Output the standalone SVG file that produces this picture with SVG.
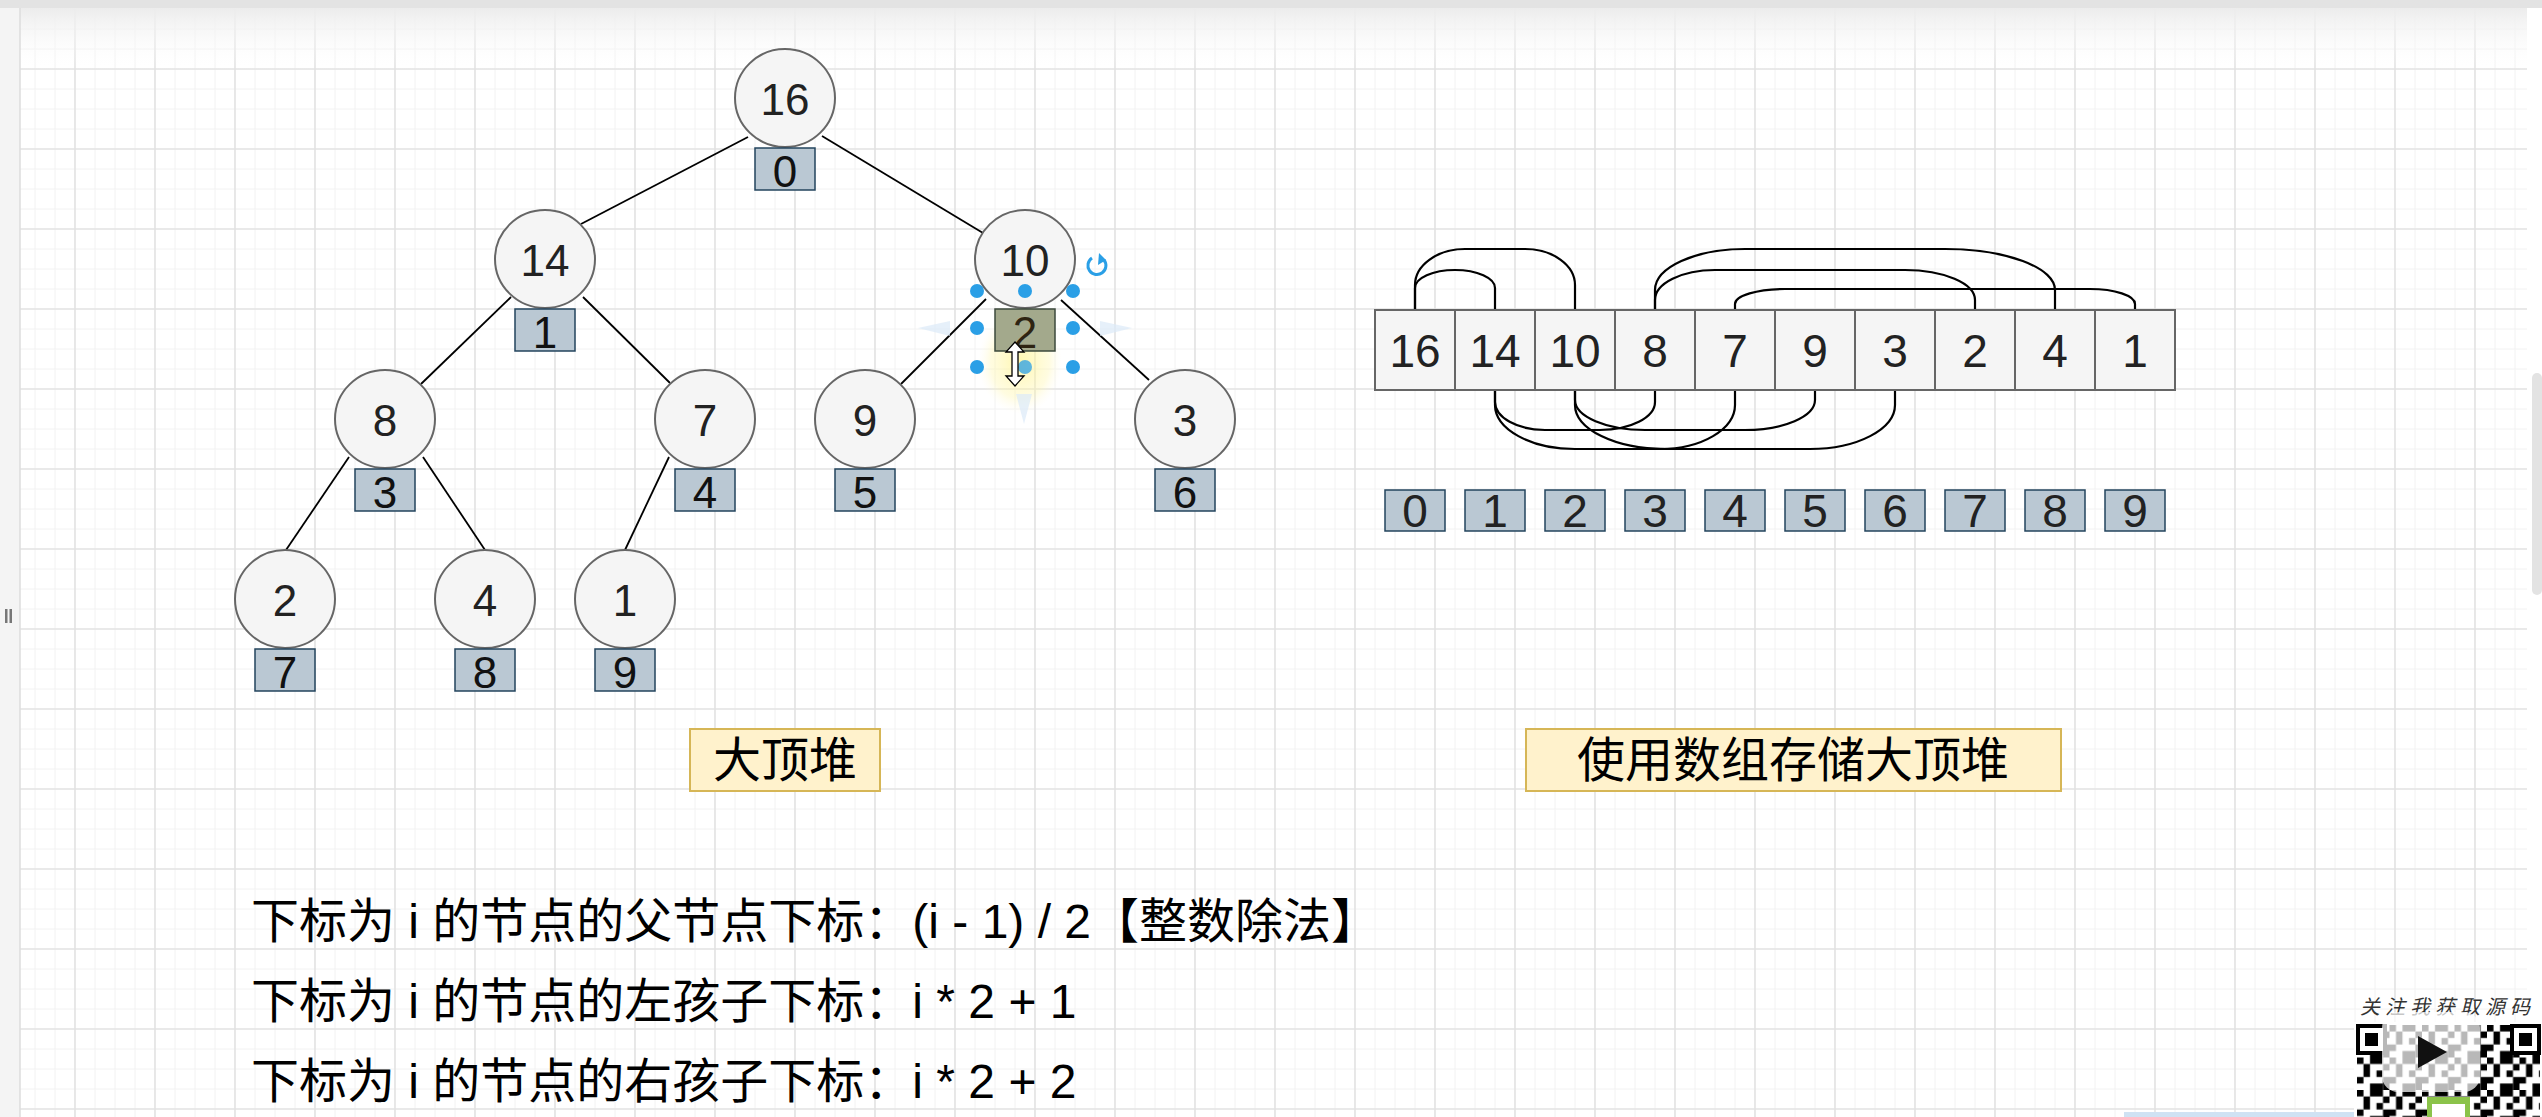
<svg xmlns="http://www.w3.org/2000/svg" width="2542" height="1117" viewBox="0 0 2542 1117">
<defs>
<style>
.txt{font-family:"Liberation Sans","Noto Sans CJK SC",sans-serif;}
.circ{fill:#f5f5f5;stroke:#666666;stroke-width:2;}
.idx{fill:#bac8d3;stroke:#23445d;stroke-width:1.5;}
.cell{fill:#f5f5f5;stroke:#666666;stroke-width:2;}
.lbl{fill:#fff2cc;stroke:#d6b656;stroke-width:2;}
.cn{font-size:44px;fill:#222;text-anchor:middle;}
.bn{font-size:44px;fill:#111;text-anchor:middle;}
.an{font-size:46px;fill:#222;text-anchor:middle;}
.lt{font-size:48px;fill:#000;text-anchor:middle;}
.ft{font-size:48px;fill:#000;}
.edge{stroke:#000;stroke-width:1.8;fill:none;}
.arc{stroke:#000;stroke-width:2.2;fill:none;}
.hd{fill:#2a9fe6;}
</style>
<pattern id="grid" x="74" y="68" width="80" height="80" patternUnits="userSpaceOnUse">
<path d="M21 0V80M41 0V80M61 0V80M0 21H80M0 41H80M0 61H80" stroke="#f2f2f2" stroke-width="1"/>
<path d="M1 0V80M0 1H80" stroke="#e2e2e2" stroke-width="1.6"/>
</pattern>
<linearGradient id="topg" x1="0" y1="0" x2="0" y2="1">
<stop offset="0" stop-color="#ececec" stop-opacity="1"/>
<stop offset="1" stop-color="#ffffff" stop-opacity="0"/>
</linearGradient>
<radialGradient id="glow" cx="0.5" cy="0.5" r="0.5">
<stop offset="0" stop-color="#fff27a" stop-opacity="0.6"/>
<stop offset="0.7" stop-color="#fff6a8" stop-opacity="0.35"/>
<stop offset="1" stop-color="#fffbe0" stop-opacity="0"/>
</radialGradient>
<pattern id="qr" x="2357" y="1025" width="32.5" height="32.5" patternUnits="userSpaceOnUse">
<rect x="0" y="0" width="6.5" height="6.5" fill="#000"/>
<rect x="13" y="0" width="13" height="6.5" fill="#000"/>
<rect x="6.5" y="6.5" width="6.5" height="13" fill="#000"/>
<rect x="19.5" y="13" width="6.5" height="6.5" fill="#000"/>
<rect x="26" y="6.5" width="6.5" height="6.5" fill="#000"/>
<rect x="0" y="19.5" width="6.5" height="6.5" fill="#000"/>
<rect x="13" y="26" width="13" height="6.5" fill="#000"/>
<rect x="26" y="19.5" width="6.5" height="13" fill="#000"/>
</pattern>
</defs>

<!-- background / canvas -->
<rect x="0" y="0" width="2542" height="1117" fill="#ffffff"/>
<rect x="20" y="8" width="2507" height="1109" fill="url(#grid)"/>
<rect x="20" y="8" width="2507" height="62" fill="url(#topg)"/>
<rect x="0" y="0" width="2542" height="8" fill="#e3e3e3"/>
<rect x="0" y="8" width="20" height="1109" fill="#f4f4f4"/>
<line x1="20" y1="8" x2="20" y2="1117" stroke="#dddddd" stroke-width="1.5"/>
<rect x="5" y="609" width="2.5" height="14" fill="#777"/>
<rect x="9.5" y="609" width="2.5" height="14" fill="#777"/>
<rect x="2532" y="373" width="10" height="222" rx="5" fill="#e3e3e3"/>

<!-- tree connectors -->
<g id="connectors">
<g id="tree-edges">
<line class="edge" x1="748" y1="137" x2="581" y2="224"/>
<line class="edge" x1="822" y1="136" x2="983" y2="233"/>
<line class="edge" x1="511" y1="297" x2="421" y2="384"/>
<line class="edge" x1="583" y1="297" x2="670" y2="383"/>
<line class="edge" x1="986" y1="299" x2="901" y2="384"/>
<line class="edge" x1="1061" y1="300" x2="1149" y2="380"/>
<line class="edge" x1="349" y1="457" x2="286" y2="550"/>
<line class="edge" x1="423" y1="457" x2="485" y2="550"/>
<line class="edge" x1="669" y1="457" x2="625" y2="550"/>
</g>
<g id="array-links">
<path class="arc" d="M1415 310V288A40 18 0 0 1 1455 270A40 18 0 0 1 1495 288V310"/>
<path class="arc" d="M1415 310V285A50 36 0 0 1 1465 249H1525A50 36 0 0 1 1575 285V310"/>
<path class="arc" d="M1655 310V290A90 41 0 0 1 1745 249H1945A110 41 0 0 1 2055 290V310"/>
<path class="arc" d="M1655 310V300A60 30 0 0 1 1715 270H1905A70 30 0 0 1 1975 300V310"/>
<path class="arc" d="M1735 310V304A50 15 0 0 1 1785 289H2090A45 15 0 0 1 2135 304V310"/>
<path class="arc" d="M1495 390V402A50 28 0 0 0 1545 430H1600A55 28 0 0 0 1655 402V390"/>
<path class="arc" d="M1495 390V405A80 44 0 0 0 1575 449H1660A75 44 0 0 0 1735 405V390"/>
<path class="arc" d="M1575 390V400A70 30 0 0 0 1645 430H1745A70 30 0 0 0 1815 400V390"/>
<path class="arc" d="M1575 390V405A90 44 0 0 0 1665 449H1810A85 44 0 0 0 1895 405V390"/>
</g>
</g>

<!-- editor highlight glow (behind the selected box) -->
<ellipse cx="1020" cy="362" rx="42" ry="52" fill="url(#glow)"/>

<!-- tree nodes -->
<g id="node-16"><ellipse class="circ" cx="785" cy="98" rx="50" ry="49"/><text class="txt cn" x="785" y="115">16</text><rect class="idx" x="755" y="148" width="60" height="42"/><text class="txt bn" x="785" y="187">0</text></g>
<g id="node-14"><ellipse class="circ" cx="545" cy="259" rx="50" ry="49"/><text class="txt cn" x="545" y="276">14</text><rect class="idx" x="515" y="309" width="60" height="42"/><text class="txt bn" x="545" y="348">1</text></g>
<g id="node-10"><ellipse class="circ" cx="1025" cy="259" rx="50" ry="49"/><text class="txt cn" x="1025" y="276">10</text><rect x="995" y="309" width="60" height="42" fill="#a3a98c" stroke="#3d4a3d" stroke-width="1.5"/><text class="txt" x="1025" y="348" font-size="44" text-anchor="middle" fill="#2e2412">2</text></g>
<g id="node-8"><ellipse class="circ" cx="385" cy="419" rx="50" ry="49"/><text class="txt cn" x="385" y="436">8</text><rect class="idx" x="355" y="469" width="60" height="42"/><text class="txt bn" x="385" y="508">3</text></g>
<g id="node-7"><ellipse class="circ" cx="705" cy="419" rx="50" ry="49"/><text class="txt cn" x="705" y="436">7</text><rect class="idx" x="675" y="469" width="60" height="42"/><text class="txt bn" x="705" y="508">4</text></g>
<g id="node-9"><ellipse class="circ" cx="865" cy="419" rx="50" ry="49"/><text class="txt cn" x="865" y="436">9</text><rect class="idx" x="835" y="469" width="60" height="42"/><text class="txt bn" x="865" y="508">5</text></g>
<g id="node-3"><ellipse class="circ" cx="1185" cy="419" rx="50" ry="49"/><text class="txt cn" x="1185" y="436">3</text><rect class="idx" x="1155" y="469" width="60" height="42"/><text class="txt bn" x="1185" y="508">6</text></g>
<g id="node-2"><ellipse class="circ" cx="285" cy="599" rx="50" ry="49"/><text class="txt cn" x="285" y="616">2</text><rect class="idx" x="255" y="649" width="60" height="42"/><text class="txt bn" x="285" y="688">7</text></g>
<g id="node-4"><ellipse class="circ" cx="485" cy="599" rx="50" ry="49"/><text class="txt cn" x="485" y="616">4</text><rect class="idx" x="455" y="649" width="60" height="42"/><text class="txt bn" x="485" y="688">8</text></g>
<g id="node-1"><ellipse class="circ" cx="625" cy="599" rx="50" ry="49"/><text class="txt cn" x="625" y="616">1</text><rect class="idx" x="595" y="649" width="60" height="42"/><text class="txt bn" x="625" y="688">9</text></g>

<!-- array -->
<g id="array">
<rect class="cell" x="1375" y="310" width="80" height="80"/><text class="txt an" x="1415" y="367">16</text>
<rect class="cell" x="1455" y="310" width="80" height="80"/><text class="txt an" x="1495" y="367">14</text>
<rect class="cell" x="1535" y="310" width="80" height="80"/><text class="txt an" x="1575" y="367">10</text>
<rect class="cell" x="1615" y="310" width="80" height="80"/><text class="txt an" x="1655" y="367">8</text>
<rect class="cell" x="1695" y="310" width="80" height="80"/><text class="txt an" x="1735" y="367">7</text>
<rect class="cell" x="1775" y="310" width="80" height="80"/><text class="txt an" x="1815" y="367">9</text>
<rect class="cell" x="1855" y="310" width="80" height="80"/><text class="txt an" x="1895" y="367">3</text>
<rect class="cell" x="1935" y="310" width="80" height="80"/><text class="txt an" x="1975" y="367">2</text>
<rect class="cell" x="2015" y="310" width="80" height="80"/><text class="txt an" x="2055" y="367">4</text>
<rect class="cell" x="2095" y="310" width="80" height="80"/><text class="txt an" x="2135" y="367">1</text>
</g>
<g id="array-index">
<rect class="idx" x="1385" y="490" width="60" height="41"/><text class="txt an" x="1415" y="527">0</text>
<rect class="idx" x="1465" y="490" width="60" height="41"/><text class="txt an" x="1495" y="527">1</text>
<rect class="idx" x="1545" y="490" width="60" height="41"/><text class="txt an" x="1575" y="527">2</text>
<rect class="idx" x="1625" y="490" width="60" height="41"/><text class="txt an" x="1655" y="527">3</text>
<rect class="idx" x="1705" y="490" width="60" height="41"/><text class="txt an" x="1735" y="527">4</text>
<rect class="idx" x="1785" y="490" width="60" height="41"/><text class="txt an" x="1815" y="527">5</text>
<rect class="idx" x="1865" y="490" width="60" height="41"/><text class="txt an" x="1895" y="527">6</text>
<rect class="idx" x="1945" y="490" width="60" height="41"/><text class="txt an" x="1975" y="527">7</text>
<rect class="idx" x="2025" y="490" width="60" height="41"/><text class="txt an" x="2055" y="527">8</text>
<rect class="idx" x="2105" y="490" width="60" height="41"/><text class="txt an" x="2135" y="527">9</text>
</g>

<!-- captions -->
<g id="label-heap"><rect class="lbl" x="690" y="729" width="190" height="62"/><text class="txt lt" x="785" y="777">大顶堆</text></g>
<g id="label-array"><rect class="lbl" x="1526" y="729" width="535" height="62"/><text class="txt lt" x="1793" y="777">使用数组存储大顶堆</text></g>

<g id="formulas">
<text class="txt ft" x="251" y="938">下标为 i 的节点的父节点下标：(i - 1) / 2【整数除法】</text>
<text class="txt ft" x="251" y="1018">下标为 i 的节点的左孩子下标：i * 2 + 1</text>
<text class="txt ft" x="251" y="1098">下标为 i 的节点的右孩子下标：i * 2 + 2</text>
</g>

<!-- editor selection overlay on index box 2 -->
<g id="selection">
<path d="M950 321L918 328L950 336Z" fill="#dbeaf8" opacity="0.7"/>
<path d="M1100 321L1132 328L1100 336Z" fill="#dbeaf8" opacity="0.7"/>
<path d="M1016 394L1024 424L1032 394Z" fill="#dbeaf8" opacity="0.7"/>
<circle class="hd" cx="977" cy="291" r="7"/><circle class="hd" cx="1025" cy="291" r="7"/><circle class="hd" cx="1073" cy="291" r="7"/>
<circle class="hd" cx="977" cy="328" r="7"/><circle class="hd" cx="1073" cy="328" r="7"/>
<circle class="hd" cx="977" cy="367" r="7"/><circle class="hd" cx="1025" cy="367" r="7" opacity="0.75"/><circle class="hd" cx="1073" cy="367" r="7"/>
<path d="M1104 260A9 9 0 1 1 1092 258" fill="none" stroke="#2a9fe6" stroke-width="3"/>
<path d="M1099 253L1106 260L1098 265Z" fill="#2a9fe6"/>
<path d="M1015 342L1024 352H1018V376H1024L1015 386L1006 376H1012V352H1006Z" fill="#fff" stroke="#000" stroke-width="1.3"/>
</g>

<!-- watermark -->
<g id="watermark">
<text class="txt" x="2360" y="1014" font-size="20" font-style="italic" fill="#333" letter-spacing="5" style="font-family:'Noto Sans CJK SC',sans-serif">关注我获取源码</text>
<rect x="2354" y="1022" width="188" height="95" fill="#fff"/>
<rect x="2357" y="1025" width="183" height="92" fill="url(#qr)"/>
<rect x="2357" y="1025" width="29" height="29" fill="#fff"/>
<rect x="2358" y="1026" width="27" height="27" fill="none" stroke="#000" stroke-width="4"/>
<rect x="2365" y="1033" width="13" height="13" fill="#000"/>
<rect x="2511" y="1025" width="29" height="29" fill="#fff"/>
<rect x="2512" y="1026" width="27" height="27" fill="none" stroke="#000" stroke-width="4"/>
<rect x="2519" y="1033" width="13" height="13" fill="#000"/>
<rect x="2382" y="1012" width="98" height="80" rx="16" fill="#fff" opacity="0.72"/>
<path d="M2418 1036L2447 1052L2418 1068Z" fill="#111"/>
<rect x="2427" y="1097" width="43" height="20" fill="#8bc34a"/>
<rect x="2432" y="1104" width="33" height="13" fill="#fff"/>
<rect x="2124" y="1112" width="230" height="5" fill="#cfe2f3"/>
</g>
</svg>
